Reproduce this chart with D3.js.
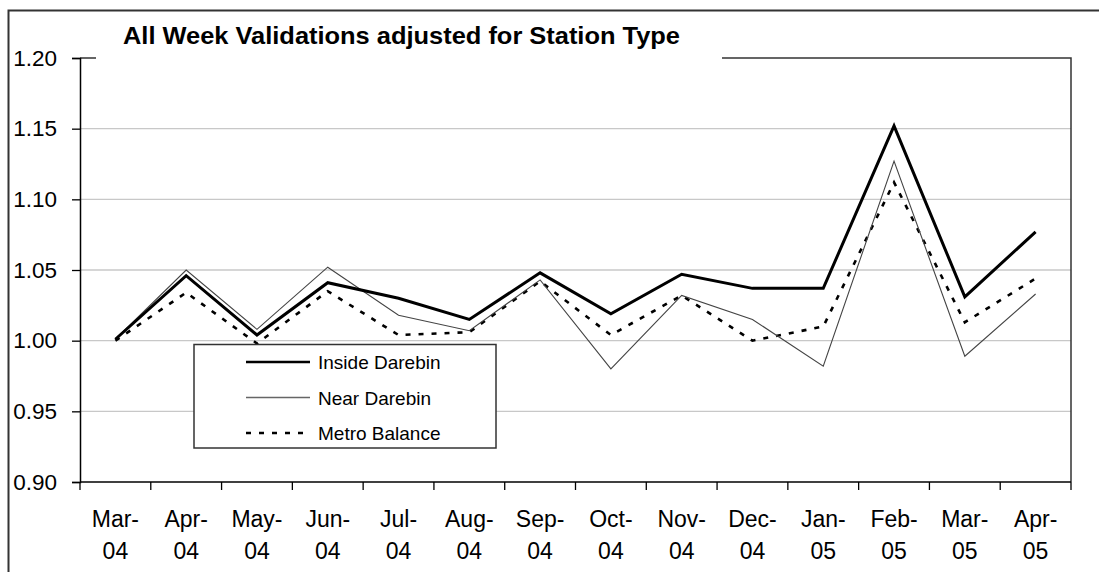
<!DOCTYPE html>
<html>
<head>
<meta charset="utf-8">
<script src="https://cdn.jsdelivr.net/npm/d3@7"></script>
<style>
  html, body { margin: 0; padding: 0; background: #fff; }
  svg { display: block; font-family: "Liberation Sans", Arial, sans-serif; }
</style>
</head>
<body>
<svg id="chart" width="1099" height="572"></svg>
<script>
// Monthly index of all-week validations, adjusted for station type
const months = ["Mar-04", "Apr-04", "May-04", "Jun-04", "Jul-04", "Aug-04", "Sep-04",
                "Oct-04", "Nov-04", "Dec-04", "Jan-05", "Feb-05", "Mar-05", "Apr-05"];
const insideDarebin = [1.001, 1.046, 1.004, 1.041, 1.030, 1.015, 1.048,
                       1.019, 1.047, 1.037, 1.037, 1.152, 1.031, 1.077];
const nearDarebin   = [1.001, 1.050, 1.008, 1.052, 1.018, 1.007, 1.043,
                       0.980, 1.032, 1.015, 0.982, 1.127, 0.989, 1.033];
const metroBalance  = [1.000, 1.034, 0.998, 1.035, 1.004, 1.006, 1.042,
                       1.004, 1.032, 1.000, 1.010, 1.112, 1.013, 1.044];
const yTicks = [0.90, 0.95, 1.00, 1.05, 1.10, 1.15, 1.20];
const titleText = "All Week Validations adjusted for Station Type";

const svg = d3.select("#chart");
const plot = { left: 80, right: 1071, top: 58, bottom: 482 };

const x = d3.scaleBand().domain(months).range([plot.left, plot.right]).padding(0);
const y = d3.scaleLinear().domain([0.90, 1.20]).range([plot.bottom, plot.top]);
const cx = m => x(m) + x.bandwidth() / 2;

// outer chart frame (right and bottom edges fall outside the page)
svg.append("path")
  .attr("d", "M8.5,572 V10.5 H1099")
  .attr("fill", "none").attr("stroke", "#333").attr("stroke-width", 2);

// horizontal gridlines
svg.append("g").selectAll("line")
  .data(yTicks.filter(t => t > 0.90 && t < 1.20))
  .join("line")
  .attr("x1", plot.left).attr("x2", plot.right)
  .attr("y1", d => y(d)).attr("y2", d => y(d))
  .attr("stroke", "#c8c8c8").attr("stroke-width", 1.3);

// plot area border: top and right edges
svg.append("path")
  .attr("d", `M${plot.left},${plot.top} H${plot.right} V${plot.bottom}`)
  .attr("fill", "none").attr("stroke", "#333").attr("stroke-width", 1.5);

// y axis
const yAxis = d3.axisLeft(y).tickValues(yTicks).tickFormat(d3.format(".2f"))
  .tickSize(8).tickPadding(15);
const gy = svg.append("g").attr("transform", `translate(${plot.left},0)`).call(yAxis);
gy.select(".domain").attr("stroke", "#000").attr("stroke-width", 1.5);
gy.selectAll(".tick line").attr("stroke", "#000").attr("stroke-width", 1.3);
gy.selectAll(".tick text")
  .attr("font-size", 22.5).attr("fill", "#000")
  .attr("font-family", "'Liberation Sans', Arial, sans-serif");

// x axis: ticks sit on band boundaries, labels in two lines under each band
const gx = svg.append("g").attr("transform", `translate(0,${plot.bottom})`);
gx.append("line").attr("x1", plot.left).attr("x2", plot.right)
  .attr("stroke", "#000").attr("stroke-width", 1.5);
const boundaries = months.map(m => x(m)).concat([x.range()[1]]);
gx.selectAll("line.tk").data(boundaries).join("line").attr("class", "tk")
  .attr("x1", d => d).attr("x2", d => d).attr("y1", 0).attr("y2", 8)
  .attr("stroke", "#000").attr("stroke-width", 1.3);
const lab = gx.selectAll("text.lab").data(months).join("text").attr("class", "lab")
  .attr("text-anchor", "middle").attr("font-size", 23).attr("fill", "#000");
lab.append("tspan").attr("x", d => cx(d)).attr("y", 45).text(d => d.split("-")[0] + "-");
lab.append("tspan").attr("x", d => cx(d)).attr("y", 77).text(d => d.split("-")[1]);

// series lines
const series = [
  { name: "Inside Darebin", values: insideDarebin, color: "#000", width: 3, dash: null },
  { name: "Near Darebin",   values: nearDarebin,   color: "#444", width: 1.1, dash: null },
  { name: "Metro Balance",  values: metroBalance,  color: "#000", width: 2.6, dash: "5,8" }
];
const line = d3.line().x((d, i) => cx(months[i])).y(d => y(d));
svg.append("g").selectAll("path")
  .data(series.slice().reverse())
  .join("path")
  .attr("d", d => line(d.values))
  .attr("fill", "none")
  .attr("stroke", d => d.color)
  .attr("stroke-width", d => d.width)
  .attr("stroke-dasharray", d => d.dash)
  .attr("stroke-linejoin", "miter");

// title, on a white box over the plot border
svg.append("rect").attr("x", 96).attr("y", 50).attr("width", 626).attr("height", 14).attr("fill", "#fff");
svg.append("text")
  .attr("x", 123).attr("y", 44)
  .attr("font-size", 24).attr("font-weight", "bold").attr("fill", "#000")
  .attr("textLength", 557).attr("lengthAdjust", "spacingAndGlyphs")
  .text(titleText);

// legend
const lg = svg.append("g");
lg.append("rect").attr("x", 194).attr("y", 344.5).attr("width", 302).attr("height", 103.5)
  .attr("fill", "#fff").attr("stroke", "#333").attr("stroke-width", 1.5);
const rows = lg.selectAll("g.item").data(series).join("g").attr("class", "item")
  .attr("transform", (d, i) => `translate(0,${362 + i * 35.5})`);
rows.append("line").attr("x1", 246).attr("x2", 310).attr("y1", 0).attr("y2", 0)
  .attr("stroke", d => d.name === "Near Darebin" ? "#666" : d.color)
  .attr("stroke-width", d => d.name === "Near Darebin" ? 1.6 : 2.6)
  .attr("stroke-dasharray", d => d.dash);
rows.append("text").attr("x", 318).attr("y", 7).attr("font-size", 19).attr("fill", "#000")
  .text(d => d.name);
</script>
</body>
</html>
